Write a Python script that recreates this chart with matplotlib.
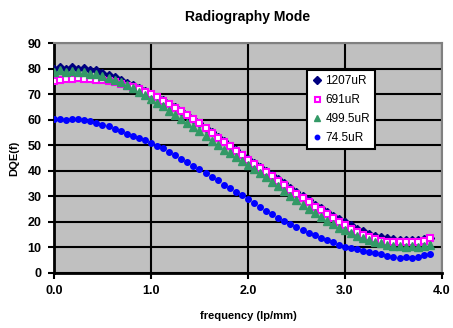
import matplotlib
matplotlib.use("Agg")
import matplotlib.pyplot as plt

# spatial frequency (lp/mm), sampled every 0.0625
freq = [0.0, 0.0625, 0.125, 0.1875, 0.25, 0.3125, 0.375, 0.4375,
        0.5, 0.5625, 0.625, 0.6875, 0.75, 0.8125, 0.875, 0.9375,
        1.0, 1.0625, 1.125, 1.1875, 1.25, 1.3125, 1.375, 1.4375,
        1.5, 1.5625, 1.625, 1.6875, 1.75, 1.8125, 1.875, 1.9375,
        2.0, 2.0625, 2.125, 2.1875, 2.25, 2.3125, 2.375, 2.4375,
        2.5, 2.5625, 2.625, 2.6875, 2.75, 2.8125, 2.875, 2.9375,
        3.0, 3.0625, 3.125, 3.1875, 3.25, 3.3125, 3.375, 3.4375,
        3.5, 3.5625, 3.625, 3.6875, 3.75, 3.8125, 3.875]

dqe_1207 = [80.0, 80.6, 79.9, 80.5, 80.0, 80.2, 79.3, 79.4,
            78.2, 77.6, 76.6, 75.7, 74.4, 73.6, 72.4, 71.4,
            70.1, 68.9, 67.6, 66.3, 64.9, 63.4, 61.9, 60.3,
            58.7, 56.9, 55.1, 53.3, 51.5, 49.8, 48.0, 46.3,
            44.6, 43.1, 41.5, 40.1, 38.5, 36.8, 35.1, 33.3,
            31.6, 30.0, 28.4, 26.8, 25.3, 23.8, 22.4, 21.0,
            19.8, 18.6, 17.4, 16.3, 15.4, 14.6, 14.0, 13.6,
            13.3, 13.0, 13.1, 12.9, 13.1, 13.3, 13.6]

dqe_691 = [75.3, 75.6, 76.0, 76.1, 76.2, 76.0, 75.8, 75.4,
           75.6, 75.2, 74.9, 74.1, 73.3, 72.6, 71.9, 71.0,
           69.9, 68.7, 67.4, 66.1, 64.6, 63.3, 61.8, 60.2,
           58.5, 56.6, 54.8, 53.0, 51.2, 49.6, 47.7, 46.0,
           44.3, 42.8, 41.1, 39.4, 37.8, 36.0, 34.3, 32.6,
           30.9, 29.3, 27.6, 26.0, 24.5, 23.0, 21.4, 20.0,
           18.7, 17.3, 16.1, 15.0, 14.1, 13.3, 12.7, 12.3,
           12.1, 12.2, 12.0, 12.3, 12.1, 12.6, 13.7]

dqe_499 = [78.6, 79.3, 78.5, 79.2, 78.5, 78.7, 77.9, 78.0,
           77.0, 76.3, 75.6, 74.6, 73.4, 72.2, 70.9, 69.6,
           68.2, 66.7, 65.2, 63.5, 61.9, 60.3, 58.7, 57.1,
           55.4, 53.6, 51.8, 50.0, 48.2, 46.8, 45.3, 43.8,
           42.2, 40.6, 39.0, 37.4, 35.8, 33.9, 32.1, 30.3,
           28.5, 26.8, 25.1, 23.4, 21.8, 20.4, 19.1, 17.8,
           16.7, 15.6, 14.6, 13.7, 12.9, 12.2, 11.6, 11.1,
           10.7, 10.5, 10.3, 10.4, 10.2, 10.5, 11.1]

dqe_74 = [60.2, 60.3, 60.0, 60.2, 60.1, 59.9, 59.3, 58.6,
          57.9, 57.4, 56.5, 55.4, 54.3, 53.8, 52.7, 51.9,
          51.0, 49.8, 48.9, 47.4, 46.2, 44.7, 43.5, 42.0,
          40.5, 39.3, 37.6, 36.2, 34.5, 33.3, 31.7, 30.4,
          29.0, 27.4, 26.0, 24.2, 23.0, 21.6, 20.5, 19.2,
          18.1, 17.0, 15.8, 14.9, 13.8, 12.9, 12.1, 11.1,
          10.3, 9.7, 9.3, 8.8, 8.4, 7.8, 7.3, 6.8,
          6.2, 6.0, 6.1, 6.0, 6.2, 6.9, 7.4]

x_ticks = [0, 1, 2, 3, 4]
x_labels = ["0.0", "1.0", "2.0", "3.0", "4.0"]
y_ticks = [0, 10, 20, 30, 40, 50, 60, 70, 80, 90]

plt.rcParams['font.family'] = ['Liberation Sans', 'DejaVu Sans']

fig = plt.figure(figsize=(4.53, 3.28), dpi=100)
ax = fig.add_axes([0.1192, 0.1677, 0.8565, 0.7012])
ax.set_facecolor('#C0C0C0')

ax.plot(freq, dqe_1207, linestyle='none', marker='D', markersize=4.5,
        color='#000080', label='1207uR', zorder=3)
ax.plot(freq, dqe_691, linestyle='none', marker='s', markersize=4.5,
        markerfacecolor='white', markeredgecolor='#FF00FF', markeredgewidth=1.5,
        label='691uR', zorder=3)
ax.plot(freq, dqe_499, linestyle='none', marker='^', markersize=6,
        color='#339966', label='499.5uR', zorder=3)
ax.plot(freq, dqe_74, linestyle='none', marker='o', markersize=4,
        color='#0000FF', label='74.5uR', zorder=3)

ax.set_xlim(0, 4)
ax.set_ylim(0, 90)
ax.set_xticks(x_ticks)
ax.set_xticklabels(x_labels)
ax.set_yticks(y_ticks)
ax.grid(True, color='black', linewidth=1.5)
ax.set_axisbelow(True)

for lbl in ax.get_xticklabels() + ax.get_yticklabels():
    lbl.set_fontweight('bold')
    lbl.set_fontsize(9)
ax.tick_params(direction='out', length=4, width=1.5, color='black', pad=5)

ax.spines['left'].set_linewidth(2)
ax.spines['bottom'].set_linewidth(2)
ax.spines['top'].set_color('#808080')
ax.spines['right'].set_color('#808080')
ax.spines['top'].set_linewidth(1.5)
ax.spines['right'].set_linewidth(1.5)

ax.set_title('Radiography Mode', fontsize=10, fontweight='bold', pad=16)
ax.set_xlabel('frequency (lp/mm)', fontsize=8, fontweight='bold', labelpad=10)
ax.set_ylabel('DQE(f)', fontsize=8, fontweight='bold', labelpad=6)

leg = ax.legend(loc='upper left', bbox_to_anchor=(0.651, 0.883), fontsize=8.5,
                frameon=True, fancybox=False, framealpha=1, edgecolor='black',
                handletextpad=0.2, handlelength=1.0, borderpad=0.4,
                labelspacing=0.6, borderaxespad=0, markerscale=0.8)
leg.get_frame().set_linewidth(1.5)

fig.savefig('out.png', dpi=100)
